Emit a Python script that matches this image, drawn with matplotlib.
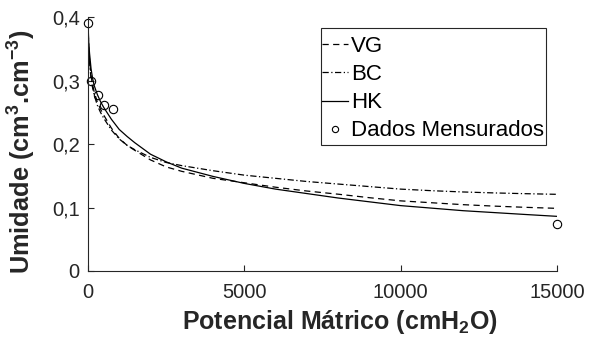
import numpy as np
import matplotlib
matplotlib.use('Agg')
import matplotlib.pyplot as plt
from matplotlib.patches import Rectangle

plt.rcParams['font.family'] = ['Liberation Sans', 'DejaVu Sans']
plt.rcParams['mathtext.fontset'] = 'custom'
plt.rcParams['mathtext.rm'] = 'Liberation Sans:bold'
plt.rcParams['mathtext.bf'] = 'Liberation Sans:bold'

# potencial matrico (cmH2O) onde as curvas ajustadas foram lidas
x_modelo = [0, 25, 50, 100, 150, 200, 300, 400, 500, 750, 1000, 1250, 1500, 2000, 2500, 3000,
            4000, 5000, 6000, 7000, 8000, 9000, 10000, 11000, 12000, 13000, 14000, 15000]
umid_vg = [0.392, 0.350, 0.333, 0.307, 0.293, 0.282, 0.266, 0.255, 0.246, 0.225, 0.209, 0.198,
           0.190, 0.175, 0.164, 0.157, 0.146, 0.139, 0.132, 0.126, 0.121, 0.1155, 0.1105, 0.1075,
           0.1045, 0.1022, 0.1003, 0.0987]
umid_bc = [0.392, 0.345, 0.328, 0.302, 0.288, 0.277, 0.261, 0.250, 0.241, 0.222, 0.208, 0.198,
           0.191, 0.179, 0.171, 0.166, 0.158, 0.151, 0.146, 0.141, 0.137, 0.133, 0.129, 0.1265,
           0.1245, 0.1230, 0.1218, 0.1208]
umid_hk = [0.392, 0.360, 0.343, 0.318, 0.303, 0.292, 0.278, 0.267, 0.258, 0.239, 0.223, 0.212,
           0.202, 0.184, 0.172, 0.162, 0.149, 0.138, 0.129, 0.122, 0.115, 0.109, 0.103, 0.099,
           0.095, 0.092, 0.089, 0.0861]

# dados medidos
x_med = [0, 100, 330, 500, 800, 15000]
umid_med = [0.39, 0.30, 0.277, 0.262, 0.256, 0.074]

x_ticks = [0, 5000, 10000, 15000]
y_ticks = [0, 0.1, 0.2, 0.3, 0.4]
y_tick_labels = ['0', '0,1', '0,2', '0,3', '0,4']

cor_eixo = '#262626'

fig = plt.figure(figsize=(5.92, 3.49), dpi=100)
ax = fig.add_axes([0.1486, 0.2235, 0.7922, 0.7275])

ax.plot(x_modelo, umid_vg, color='black', lw=0.9, dashes=(5, 3.5), label='VG')
ax.plot(x_modelo, umid_bc, color='black', lw=0.9, dashes=(5, 2, 1, 2), label='BC')
ax.plot(x_modelo, umid_hk, color='black', lw=0.9, label='HK')
ax.plot(x_med, umid_med, 'o', mfc='none', mec='black', ms=6, mew=0.8, clip_on=False,
        label='Dados Mensurados')

ax.set_xlim(0, 15000)
ax.set_ylim(0, 0.4)
ax.set_xticks(x_ticks)
ax.set_xticklabels([str(v) for v in x_ticks])
ax.set_yticks(y_ticks)
ax.set_yticklabels(y_tick_labels)

for s in ['top', 'right']:
    ax.spines[s].set_visible(False)
for s in ['left', 'bottom']:
    ax.spines[s].set_color(cor_eixo)
    ax.spines[s].set_linewidth(0.8)
ax.tick_params(direction='in', length=4, width=0.8, colors=cor_eixo, labelsize=14.5,
               labelcolor=cor_eixo)
ax.tick_params(axis='x', pad=9)
ax.tick_params(axis='y', pad=6)

ax.set_xlabel(r'Potencial Mátrico (cmH$_2$O)', fontsize=18, fontweight='bold', color=cor_eixo)
ax.set_ylabel(r'Umidade (cm$^3$.cm$^{-3}$)', fontsize=18.3, fontweight='bold', color=cor_eixo)
ax.xaxis.set_label_coords(0.537, -0.146)
ax.yaxis.set_label_coords(-0.107, 0.47)

# legenda sem moldura; a moldura vai como retangulo à parte
leg = ax.legend(loc='upper left', bbox_to_anchor=(0.499, 0.925), fontsize=16,
                frameon=False, handlelength=1.15, handletextpad=0.15,
                borderpad=0, labelspacing=0.32, borderaxespad=0, markerscale=0.75)
for t in leg.get_texts():
    t.set_color('black')
ax.add_patch(Rectangle((0.497, 0.496), 0.4795, 0.461, transform=ax.transAxes,
                       fill=False, edgecolor=cor_eixo, lw=0.8, clip_on=False))

fig.savefig('out.png', dpi=100)
